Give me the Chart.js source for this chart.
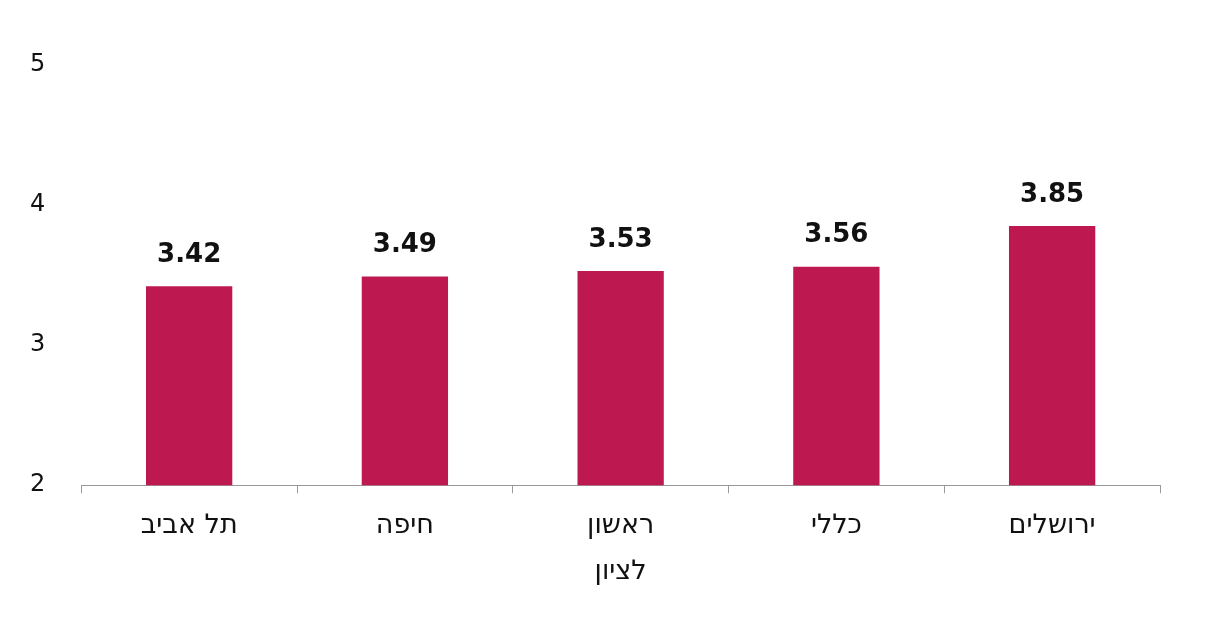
<!DOCTYPE html>
<html><head><meta charset="utf-8">
<script src="https://cdn.jsdelivr.net/npm/chart.js@4"></script>
<style>html,body{margin:0;padding:0;background:#fff}#w{width:1206px;height:633px}</style>
</head><body><div id="w"><canvas id="c"></canvas></div>
<script>
const categories = ['תל אביב','חיפה',['ראשון','לציון'],'כללי','ירושלים'];
const values = [3.42,3.49,3.53,3.56,3.85];
const yTicks = [2,3,4,5];

const labelPlugin = {
  id:'lbl',
  afterDatasetsDraw(chart){
    const ctx=chart.ctx, meta=chart.getDatasetMeta(0);
    ctx.save();
    ctx.font='bold 26px "DejaVu Sans"';
    ctx.fillStyle='#111';
    ctx.textAlign='center';ctx.textBaseline='bottom';
    meta.data.forEach((b,i)=>ctx.fillText(values[i].toFixed(2),b.x,b.y-18));
    ctx.restore();
  }
};
new Chart(document.getElementById('c'),{
  type:'bar',
  data:{labels:categories,datasets:[{data:values,backgroundColor:'#BE1850',barPercentage:0.4,categoryPercentage:1}]},
  options:{
    responsive:true,maintainAspectRatio:false,animation:false,
    layout:{padding:{left:2,right:46,top:65,bottom:28}},
    plugins:{legend:{display:false},tooltip:{enabled:false}},
    scales:{
      x:{offset:true,
        grid:{display:true,drawOnChartArea:false,offset:true,tickLength:8,color:'#999'},
        border:{display:true,color:'#999'},
        ticks:{font:{family:'DejaVu Sans',size:27,lineHeight:1.7},color:'#111',padding:10}},
      y:{min:2,max:5,afterBuildTicks:a=>{a.ticks=yTicks.map(v=>({value:v}));},
        grid:{display:false},border:{display:false},
        ticks:{font:{family:'DejaVu Sans',size:24},color:'#111',padding:28}}
    }
  },
  plugins:[labelPlugin]
});
</script></body></html>
